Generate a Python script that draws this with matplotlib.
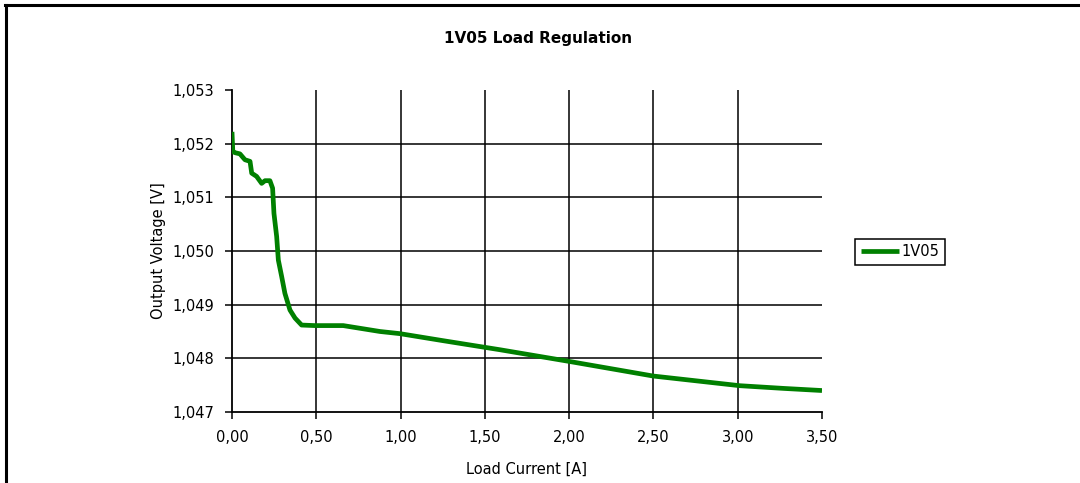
import matplotlib.pyplot as plt
from matplotlib.lines import Line2D

plt.rcParams['font.family'] = ['DejaVu Sans']

# curve (load current in A, output voltage in V)
current = [0.0, 0.005, 0.02, 0.047, 0.077, 0.107, 0.117, 0.146, 0.176, 0.196,
           0.225, 0.241, 0.249, 0.265, 0.275, 0.295, 0.314, 0.344, 0.374,
           0.413, 0.492, 0.66, 0.759, 0.878, 0.996, 1.25, 1.59, 2.005,
           2.499, 3.013, 3.27, 3.5]
voltage = [1.05222, 1.05185, 1.05183, 1.05181, 1.05170, 1.05167, 1.05145,
           1.05139, 1.05126, 1.05131, 1.05131, 1.05117, 1.05070, 1.05027,
           1.04983, 1.04952, 1.04921, 1.04890, 1.04875, 1.04862, 1.04861,
           1.04861, 1.04856, 1.04850, 1.04846, 1.04833, 1.04816, 1.04794,
           1.04767, 1.04749, 1.04744, 1.04740]

x_ticks = [0, 0.5, 1.0, 1.5, 2.0, 2.5, 3.0, 3.5]
y_ticks = [1.047, 1.048, 1.049, 1.050, 1.051, 1.052, 1.053]

fig = plt.figure(figsize=(10.8, 4.83), dpi=100)
ax = fig.add_axes([0.2148, 0.147, 0.5463, 0.6667])

# grid only on the inner ticks, like the original
for xv in x_ticks[1:-1]:
    ax.axvline(xv, color='black', lw=1.1, zorder=1)
for yv in y_ticks[1:-1]:
    ax.axhline(yv, color='black', lw=1.1, zorder=1)

ax.plot(current, voltage, color='#008000', lw=3.4, label='1V05', zorder=3,
        solid_capstyle='butt')

ax.set_xlim(0, 3.5)
ax.set_ylim(1.047, 1.053)
ax.set_xticks(x_ticks)
ax.set_yticks(y_ticks)
ax.set_xticklabels([f'{v:.2f}'.replace('.', ',') for v in x_ticks])
ax.set_yticklabels([f'{v:.3f}'.replace('.', ',') for v in y_ticks])
ax.tick_params(direction='out', length=5, width=1.1, labelsize=10.5, pad=8)
ax.spines['top'].set_visible(False)
ax.spines['right'].set_visible(False)
for s in ['left', 'bottom']:
    ax.spines[s].set_linewidth(1.3)

fig.text(538 / 1080, 1 - 38 / 483, '1V05 Load Regulation', fontsize=11,
         fontweight='bold', ha='center', va='center')
ax.set_xlabel('Load Current [A]', fontsize=10.5, labelpad=12)
ax.set_ylabel('Output Voltage [V]', fontsize=10.5, labelpad=4)

leg = fig.legend(loc='center', bbox_to_anchor=(0.8333, 0.4783), fontsize=10.5,
                 fancybox=False, framealpha=1, edgecolor='black',
                 handlelength=2.6, handletextpad=0.2, borderpad=0.4,
                 borderaxespad=0)
leg.get_frame().set_linewidth(1.1)

# outer frame of the figure (left and top edges visible)
fig.add_artist(Line2D([0.0055, 0.0055], [0.0, 0.99], transform=fig.transFigure,
                      color='black', lw=2.2))
fig.add_artist(Line2D([0.0045, 1.0], [0.99, 0.99], transform=fig.transFigure,
                      color='black', lw=2.2))

fig.savefig('out.png', dpi=100)
